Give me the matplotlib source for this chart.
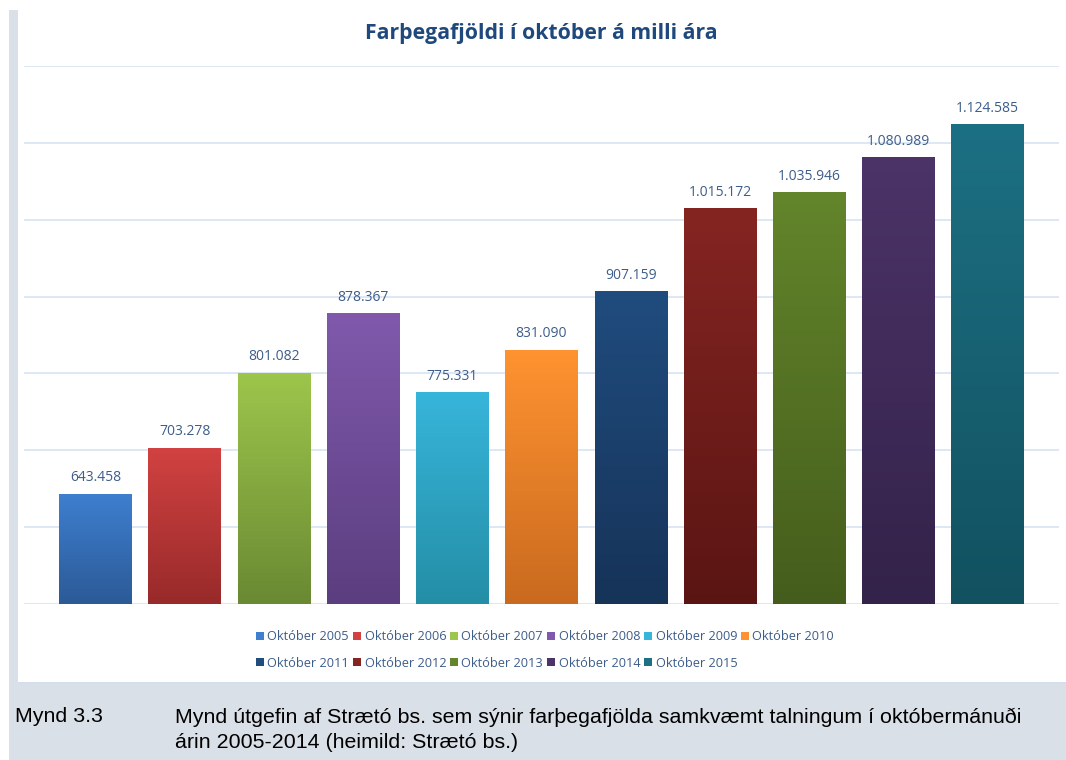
import numpy as np
import matplotlib
matplotlib.use("Agg")
import matplotlib.pyplot as plt
from matplotlib.patches import Rectangle
from matplotlib.colors import LinearSegmentedColormap

# ---- data ----
categories = ["Október 2005", "Október 2006", "Október 2007", "Október 2008",
              "Október 2009", "Október 2010", "Október 2011", "Október 2012",
              "Október 2013", "Október 2014", "Október 2015"]
values = [643458, 703278, 801082, 878367, 775331, 831090, 907159,
          1015172, 1035946, 1080989, 1124585]
top_colors = ["#3e7fcf", "#d24242", "#9dc64c", "#8059ac", "#37b5da", "#ff9331",
              "#204c7e", "#852522", "#63852b", "#4c3368", "#1c7083"]
bottom_colors = ["#2c5a97", "#982a2a", "#6a8933", "#5b3e7f", "#248ea6", "#c96a1f",
                 "#163358", "#5a1513", "#455d1c", "#332249", "#125160"]
title = "Farþegafjöldi í október á milli ára"
caption_label = "Mynd 3.3"
caption_line1 = "Mynd útgefin af Strætó bs. sem sýnir farþegafjölda samkvæmt talningum í októbermánuði"
caption_line2 = "árin 2005-2014 (heimild: Strætó bs.)"

W, H = 1066, 760
fig = plt.figure(figsize=(W / 100, H / 100), dpi=100)
fig.patch.set_facecolor("white")

# background panels
bg = fig.add_axes([0, 0, 1, 1], zorder=-10)
bg.set_xlim(0, W); bg.set_ylim(H, 0); bg.axis("off")
bg.add_patch(Rectangle((9, 10), W - 9, H - 10, facecolor="#dae0e8", edgecolor="none"))
bg.add_patch(Rectangle((18, 0), W - 18, 683, facecolor="white", edgecolor="none"))
bg.add_patch(Rectangle((18, 682), W - 18, 2, facecolor="#d3deee", edgecolor="none"))

ax = fig.add_axes([24 / W, 1 - 604 / H, (1059 - 24) / W, (604 - 66) / H])
ax.set_facecolor("none")
x = np.arange(len(values))
bars = ax.bar(x, [v - 500000 for v in values], bottom=500000, width=0.81,
              color=top_colors, edgecolor="none", zorder=3)
ax.set_yticks(np.arange(500000, 1200001, 100000))
ax.yaxis.grid(True, color="#dbe5f3", linewidth=1.3, zorder=0)
ax.set_axisbelow(True)
ax.tick_params(left=False, bottom=False, labelleft=False, labelbottom=False)
for s in ax.spines.values():
    s.set_visible(False)

grad = np.linspace(0, 1, 256).reshape(-1, 1)
for b, tc, bc, v in zip(bars, top_colors, bottom_colors, values):
    cmap = LinearSegmentedColormap.from_list("g", [bc, tc])
    x0, y0 = b.get_x(), b.get_y()
    w, h = b.get_width(), b.get_height()
    im = ax.imshow(grad, cmap=cmap, aspect="auto", origin="lower",
                   extent=[x0, x0 + w, y0, y0 + h], zorder=4)
    im.set_clip_path(b)
    lbl = f"{v:,}".replace(",", ".")
    ax.annotate(lbl, (x0 + w / 2, y0 + h), xytext=(0, 6), textcoords="offset points",
                ha="center", va="bottom", fontsize=10, color="#3d5d8a",
                family=["Open Sans", "DejaVu Sans"])
ax.set_aspect("auto")
ax.set_xlim(-0.8, 10.8)
ax.set_ylim(500000, 1200000)

fig.text(541 / W, 1 - 33 / H, title, ha="center", va="center", fontsize=15.3,
         fontweight="bold", color="#1f497d", family=["Open Sans", "DejaVu Sans"])

# legend: rows 2005-2010, 2011-2015
handles = [Rectangle((0, 0), 1, 1, facecolor=c, edgecolor="none") for c in top_colors]
order = [0, 6, 1, 7, 2, 8, 3, 9, 4, 10, 5]
leg = fig.legend([handles[i] for i in order], [categories[i] for i in order],
                 ncol=6, loc="center", bbox_to_anchor=(545 / W, 1 - 650 / H),
                 frameon=False, handlelength=0.6, handleheight=0.6,
                 handletextpad=0.3, columnspacing=0.3, labelspacing=1.05,
                 prop={"family": "Open Sans", "size": 9.2})
for t in leg.get_texts():
    t.set_color("#3d5d8a")

cap = dict(ha="left", va="center", fontsize=15.4, color="black", family="Liberation Sans")
fig.text(15 / W, 1 - 717 / H, caption_label, **cap)
fig.text(175 / W, 1 - 717 / H, caption_line1, **cap)
fig.text(175 / W, 1 - 743 / H, caption_line2, **cap)

fig.savefig("out.png", dpi=100)
